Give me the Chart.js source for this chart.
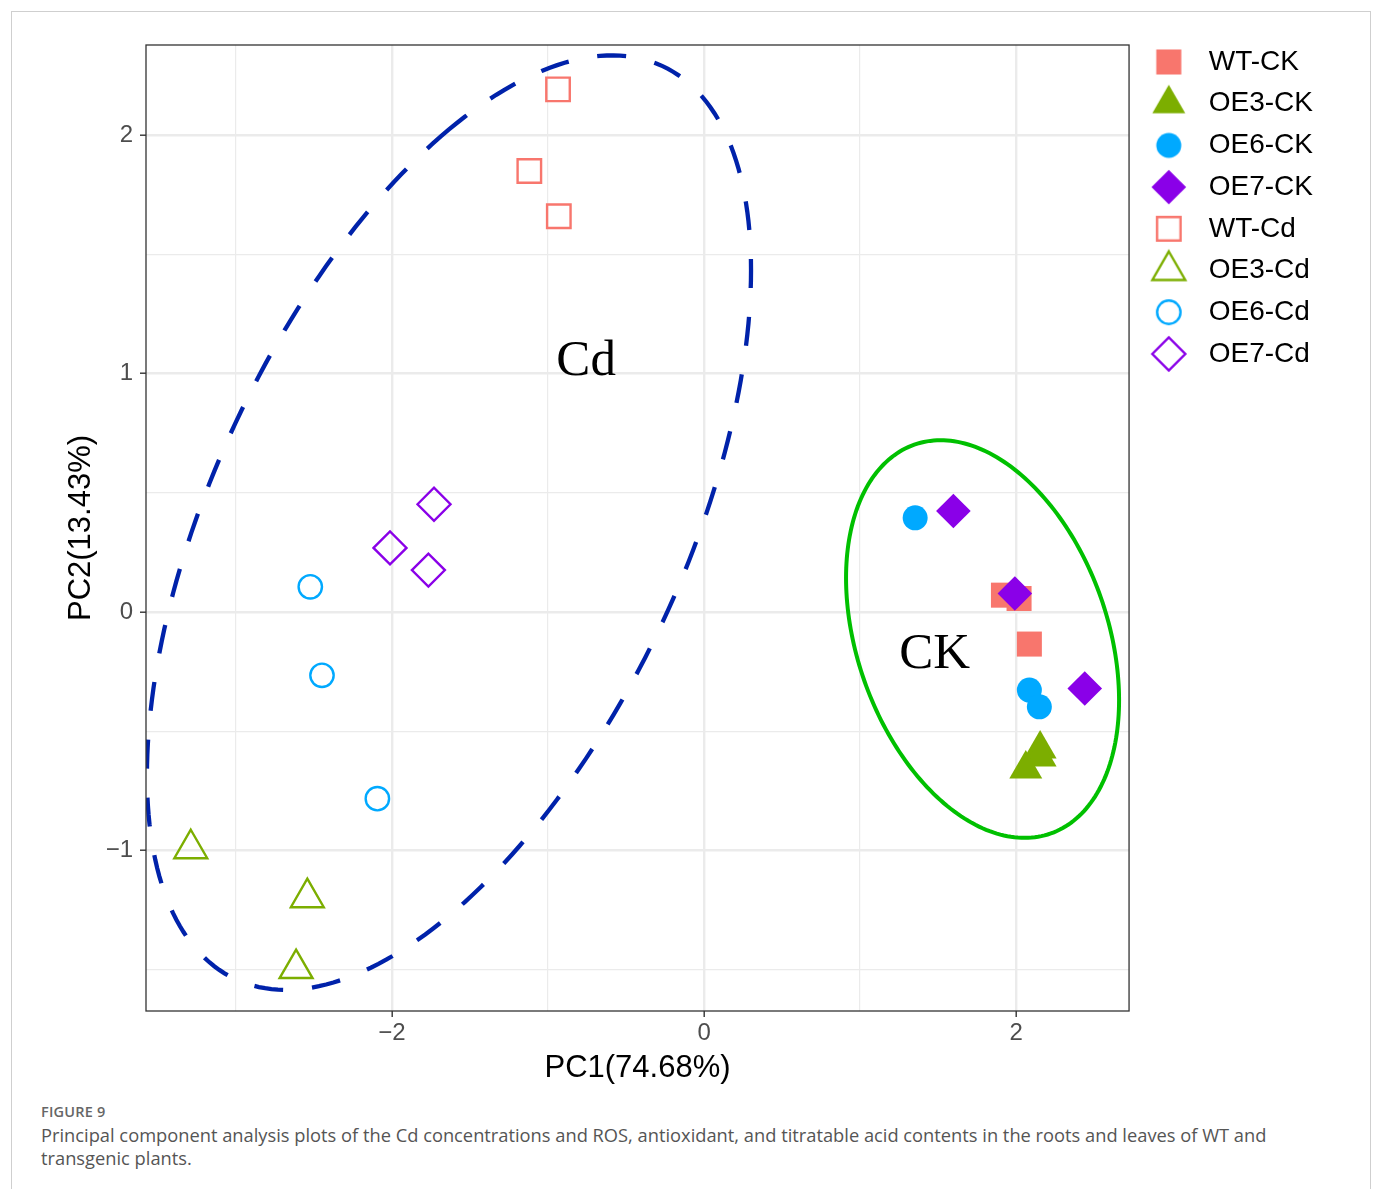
<!doctype html>
<html>

<head>
	<title>PCA plot</title>
	<script src="https://cdn.jsdelivr.net/npm/chart.js@4/dist/chart.umd.min.js"></script>
	<style>
	body {
		margin: 0;
		background: #fff;
	}
	#card {
		position: absolute;
		left: 11px;
		top: 11px;
		width: 1360px;
		height: 1220px;
		border: 1px solid #cfcfcf;
		box-sizing: border-box;
	}
	#wrap {
		position: absolute;
		left: 0;
		top: 0;
	}
	#fig {
		position: absolute;
		left: 41px;
		top: 1102px;
		font-family: "Open Sans", sans-serif;
		font-size: 14.5px;
		color: #666;
		font-weight: 600;
		letter-spacing: 0.2px;
	}
	#caption {
		position: absolute;
		left: 41px;
		top: 1123px;
		width: 1300px;
		font-family: "Open Sans", sans-serif;
		font-size: 18.3px;
		line-height: 23px;
		color: #555;
	}
	</style>
</head>

<body>
	<div id="card"></div>
	<div id="wrap">
		<canvas id="canvas" width="1375" height="1100"></canvas>
	</div>
	<div id="fig">FIGURE 9</div>
	<div id="caption">Principal component analysis plots of the Cd concentrations and ROS, antioxidant, and titratable acid contents in the roots and leaves of WT and transgenic plants.</div>
	<script>
		// PC scores
		var wtCK = [{x: 1.919, y: 0.071}, {x: 2.019, y: 0.057}, {x: 2.085, y: -0.134}];
		var oe3CK = [{x: 2.154, y: -0.574}, {x: 2.154, y: -0.607}, {x: 2.062, y: -0.658}];
		var oe6CK = [{x: 1.353, y: 0.395}, {x: 2.085, y: -0.327}, {x: 2.149, y: -0.397}];
		var oe7CK = [{x: 1.598, y: 0.424}, {x: 1.992, y: 0.078}, {x: 2.440, y: -0.320}];
		var wtCd = [{x: -0.936, y: 2.191}, {x: -1.120, y: 1.849}, {x: -0.931, y: 1.659}];
		var oe3Cd = [{x: -3.290, y: -0.992}, {x: -2.543, y: -1.197}, {x: -2.615, y: -1.494}];
		var oe6Cd = [{x: -2.524, y: 0.106}, {x: -2.449, y: -0.265}, {x: -2.094, y: -0.782}];
		var oe7Cd = [{x: -1.731, y: 0.452}, {x: -2.013, y: 0.269}, {x: -1.767, y: 0.176}];

		// major ticks are labelled, minor ones only get a grid line
		var xMajor = [-2, 0, 2];
		var xMinor = [-3, -1, 1];
		var yMajor = [-1, 0, 1, 2];
		var yMinor = [-1.5, -0.5, 0.5, 1.5];

		// group ellipses: centre and two half-axis vectors, in PC units
		var cdEllipse = {cx: -1.635, cy: 0.375, ax: 1.936, ay: 1.058, bx: 0, by: 1.648};
		var ckEllipse = {cx: 1.785, cy: -0.113, ax: 0.875, ay: -0.256, bx: 0, by: 0.793};

		var groupLabels = ['Cd', 'CK'];
		var groupLabelX = [-0.756, 1.478];
		var groupLabelY = [0.994, -0.234];

		var colors = {
			wt: '#F8766D',
			oe3: '#7CAE00',
			oe6: '#00A9FF',
			oe7: '#8A00E8'
		};
		var clear = 'rgba(0,0,0,0)';

		function filled(label, data, color, style, radius) {
			return {
				label: label,
				data: data,
				pointStyle: style,
				pointRadius: radius,
				pointHoverRadius: radius,
				pointBackgroundColor: color,
				pointBorderColor: color,
				pointBorderWidth: 0,
				backgroundColor: color,
				borderColor: color
			};
		}

		function hollow(label, data, color, style, radius) {
			return {
				label: label,
				data: data,
				pointStyle: style,
				pointRadius: radius,
				pointHoverRadius: radius,
				pointBackgroundColor: clear,
				pointBorderColor: color,
				pointBorderWidth: 2.4,
				backgroundColor: clear,
				borderColor: color
			};
		}

		// legend keys drawn with the same point routine as the plot
		function keyImage(ds) {
			var c = document.createElement('canvas');
			c.width = 46;
			c.height = 46;
			var g = c.getContext('2d');
			g.fillStyle = ds.pointBackgroundColor;
			g.strokeStyle = ds.pointBorderColor;
			g.lineWidth = ds.pointBorderWidth;
			Chart.helpers.drawPoint(g, {
				pointStyle: ds.pointStyle,
				radius: ds.pointRadius,
				borderWidth: ds.pointBorderWidth,
				rotation: 0
			}, 23, 23);
			return c;
		}

		function traceEllipse(ctx, e, xs, ys) {
			var n = 240;
			ctx.beginPath();
			for (var i = 0; i <= n; i++) {
				var t = Math.PI / 2 + i / n * Math.PI * 2;
				var px = xs.getPixelForValue(e.cx + e.ax * Math.cos(t) + e.bx * Math.sin(t));
				var py = ys.getPixelForValue(e.cy + e.ay * Math.cos(t) + e.by * Math.sin(t));
				if (i === 0) ctx.moveTo(px, py);
				else ctx.lineTo(px, py);
			}
		}

		var overlay = {
			id: 'overlay',
			beforeDatasetsDraw: function(chart) {
				var ctx = chart.ctx;
				var a = chart.chartArea;
				var xs = chart.scales.x;
				var ys = chart.scales.y;
				ctx.save();
				ctx.beginPath();
				ctx.rect(a.left, a.top, a.right - a.left, a.bottom - a.top);
				ctx.clip();
				ctx.lineCap = 'butt';
				ctx.lineWidth = 4.3;
				ctx.strokeStyle = '#0022AA';
				ctx.setLineDash([29, 29]);
				traceEllipse(ctx, cdEllipse, xs, ys);
				ctx.stroke();
				ctx.setLineDash([]);
				ctx.lineWidth = 4;
				ctx.strokeStyle = '#00C000';
				traceEllipse(ctx, ckEllipse, xs, ys);
				ctx.stroke();
				ctx.restore();
			},
			afterDatasetsDraw: function(chart) {
				var ctx = chart.ctx;
				var a = chart.chartArea;
				var xs = chart.scales.x;
				var ys = chart.scales.y;
				ctx.save();
				ctx.font = '51px "Liberation Serif", "Times New Roman", serif';
				ctx.fillStyle = '#000';
				ctx.textAlign = 'center';
				ctx.textBaseline = 'alphabetic';
				for (var i = 0; i < groupLabels.length; i++) {
					ctx.fillText(groupLabels[i], xs.getPixelForValue(groupLabelX[i]), ys.getPixelForValue(groupLabelY[i]));
				}
				ctx.strokeStyle = '#333333';
				ctx.lineWidth = 1.3;
				ctx.strokeRect(a.left, a.top, a.right - a.left, a.bottom - a.top);
				ctx.restore();
			}
		};

		function tickText(v) {
			return v < 0 ? '\u2212' + Math.abs(v) : String(v);
		}

		function axisOptions(major, minor, min, max) {
			var all = major.concat(minor).sort(function(a, b) { return a - b; });
			function isMajor(v) { return major.indexOf(v) >= 0; }
			return {
				type: 'linear',
				min: min,
				max: max,
				afterBuildTicks: function(scale) {
					scale.ticks = all.map(function(v) { return {value: v}; });
				},
				grid: {
					color: '#EBEBEB',
					lineWidth: function(c) { return isMajor(c.tick.value) ? 2.4 : 1.2; },
					tickColor: function(c) { return isMajor(c.tick.value) ? '#333333' : clear; },
					tickWidth: 1.4,
					tickLength: 6
				},
				border: {display: false},
				ticks: {
					color: '#4D4D4D',
					font: axisFont,
					maxRotation: 0,
					autoSkip: false,
					callback: function(v) { return isMajor(v) ? tickText(v) : ''; }
				}
			};
		}

		var axisFont = {family: '"Liberation Sans", Arial, sans-serif', size: 24};
		var titleFont = {family: '"Liberation Sans", Arial, sans-serif', size: 31};

		window.onload = function() {
			var xAxis = axisOptions(xMajor, xMinor, -3.577, 2.724);
			xAxis.afterFit = function(scale) { scale.height = 89; };
			xAxis.ticks.padding = 2;
			xAxis.title = {
				display: true,
				text: 'PC1(74.68%)',
				color: '#000',
				font: titleFont,
				padding: {top: 0, bottom: 13}
			};

			var yAxis = axisOptions(yMajor, yMinor, -1.672, 2.377);
			yAxis.afterFit = function(scale) { scale.width = 146; };
			yAxis.ticks.padding = 7;
			yAxis.title = {
				display: true,
				text: 'PC2(13.43%)',
				color: '#000',
				font: titleFont,
				padding: {top: 63, bottom: 0}
			};

			var datasets = [
				filled('WT-CK', wtCK, colors.wt, 'rect', 17.7),
				filled('OE3-CK', oe3CK, colors.oe3, 'triangle', 19),
				filled('OE6-CK', oe6CK, colors.oe6, 'circle', 12.5),
				filled('OE7-CK', oe7CK, colors.oe7, 'rectRot', 17.3),
				hollow('WT-Cd', wtCd, colors.wt, 'rect', 16.6),
				hollow('OE3-Cd', oe3Cd, colors.oe3, 'triangle', 19),
				hollow('OE6-Cd', oe6Cd, colors.oe6, 'circle', 11.7),
				hollow('OE7-Cd', oe7Cd, colors.oe7, 'rectRot', 16.5)
			];
			// later groups are painted over earlier ones
			datasets.forEach(function(ds, i) { ds.order = datasets.length - i; });

			var ctx = document.getElementById('canvas').getContext('2d');
			window.pca = new Chart(ctx, {
				type: 'scatter',
				data: {datasets: datasets},
				options: {
					responsive: false,
					animation: false,
					events: [],
					layout: {
						padding: {left: 0, right: 52, top: 34.3, bottom: 0}
					},
					scales: {
						x: xAxis,
						y: yAxis
					},
					plugins: {
						title: {
							display: true,
							text: '',
							fullSize: false,
							padding: 0,
							font: {size: 10.7, lineHeight: 1}
						},
						tooltip: {enabled: false},
						legend: {
							position: 'right',
							align: 'start',
							labels: {
								usePointStyle: true,
								pointStyleWidth: 52,
								padding: 13.7,
								color: '#000',
								font: {family: '"Liberation Sans", Arial, sans-serif', size: 28},
								generateLabels: function(chart) {
									return chart.data.datasets.map(function(ds, i) {
										return {
											text: ds.label,
											pointStyle: keyImage(ds),
											fillStyle: clear,
											strokeStyle: clear,
											lineWidth: 0,
											hidden: false,
											datasetIndex: i
										};
									});
								}
							}
						}
					}
				},
				plugins: [overlay]
			});
		};
	</script>
</body>
</html>
